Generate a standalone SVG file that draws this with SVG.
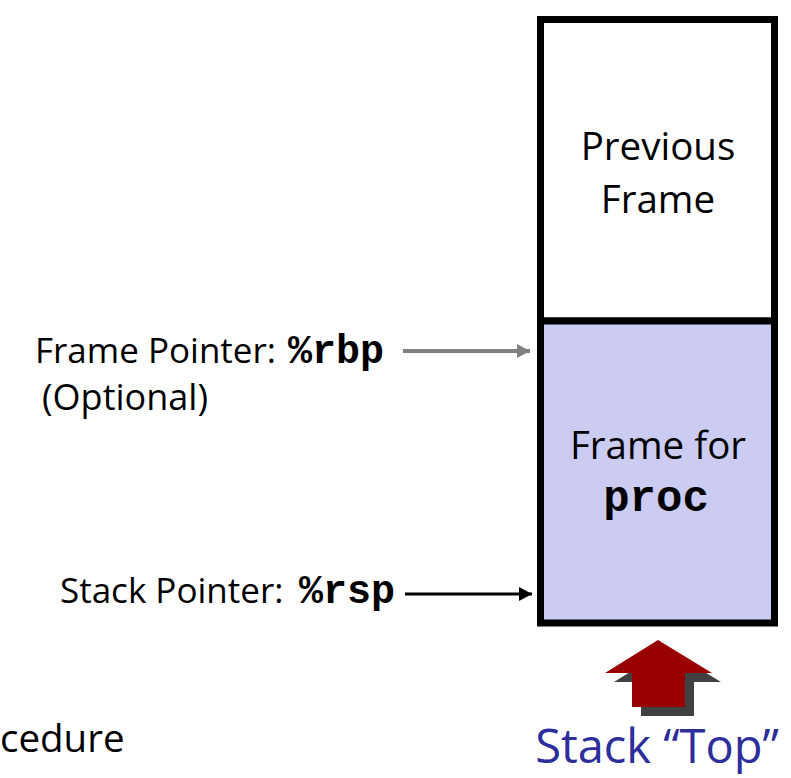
<svg xmlns="http://www.w3.org/2000/svg" width="791" height="778" viewBox="0 0 791 778">
  <defs>
    <style>
      .sans { font-family: "Open Sans", "Noto Sans", "DejaVu Sans", sans-serif; fill: #000; }
      .mono { font-family: "Liberation Mono", "Courier New", monospace; font-weight: bold; fill: #000; }
      .frame { stroke: #000; stroke-width: 7; }
      .blue { fill: #2d2d9b; }
    </style>
    <marker id="arrGray" viewBox="0 0 13 14" refX="13" refY="7" markerWidth="13" markerHeight="14" markerUnits="userSpaceOnUse" orient="auto">
      <path d="M0,0 L13,7 L0,14 Z" fill="#808080"/>
    </marker>
    <marker id="arrBlack" viewBox="0 0 13 14" refX="13" refY="7" markerWidth="13" markerHeight="14" markerUnits="userSpaceOnUse" orient="auto">
      <path d="M0,0 L13,7 L0,14 Z" fill="#000"/>
    </marker>
  </defs>
  <rect width="791" height="778" fill="#fff"/>

  <g id="prev-frame">
    <rect class="frame" x="540.5" y="19.5" width="234" height="301.5" fill="#fff"/>
    <text class="sans" x="658" y="160" font-size="38.5" text-anchor="middle">Previous</text>
    <text class="sans" x="658" y="213" font-size="38.5" text-anchor="middle">Frame</text>
  </g>

  <g id="proc-frame">
    <rect class="frame" x="540.5" y="321" width="234" height="302" fill="#ccccf2"/>
    <text class="sans" x="658" y="459" font-size="38.5" text-anchor="middle">Frame for</text>
    <text class="mono" x="656" y="511" font-size="44" text-anchor="middle">proc</text>
  </g>

  <g id="frame-pointer-label">
    <text class="sans" x="35" y="363" font-size="35">Frame Pointer: <tspan class="mono" x="288" font-size="40">%rbp</tspan></text>
    <text class="sans" x="42" y="410" font-size="36">(Optional)</text>
  </g>

  <g id="stack-pointer-label">
    <text class="sans" x="60" y="603" font-size="35">Stack Pointer: <tspan class="mono" x="299" font-size="40">%rsp</tspan></text>
  </g>

  <g id="procedure-label">
    <text class="sans" x="0" y="752" font-size="38.5">cedure</text>
  </g>

  <g id="stack-top">
    <polygon points="667,649 614,682 641,682 641,716 694,716 694,682 721,682" fill="#404040"/>
    <polygon points="658,640 605,673 632,673 632,707 685,707 685,673 712,673" fill="#990000"/>
    <text class="sans blue" x="657" y="763" font-size="47" text-anchor="middle">Stack “Top”</text>
  </g>

  <g id="connectors">
    <line x1="403" y1="351" x2="530" y2="351" stroke="#808080" stroke-width="4" marker-end="url(#arrGray)"/>
    <line x1="405" y1="594" x2="532" y2="594" stroke="#000" stroke-width="3" marker-end="url(#arrBlack)"/>
  </g>
</svg>
